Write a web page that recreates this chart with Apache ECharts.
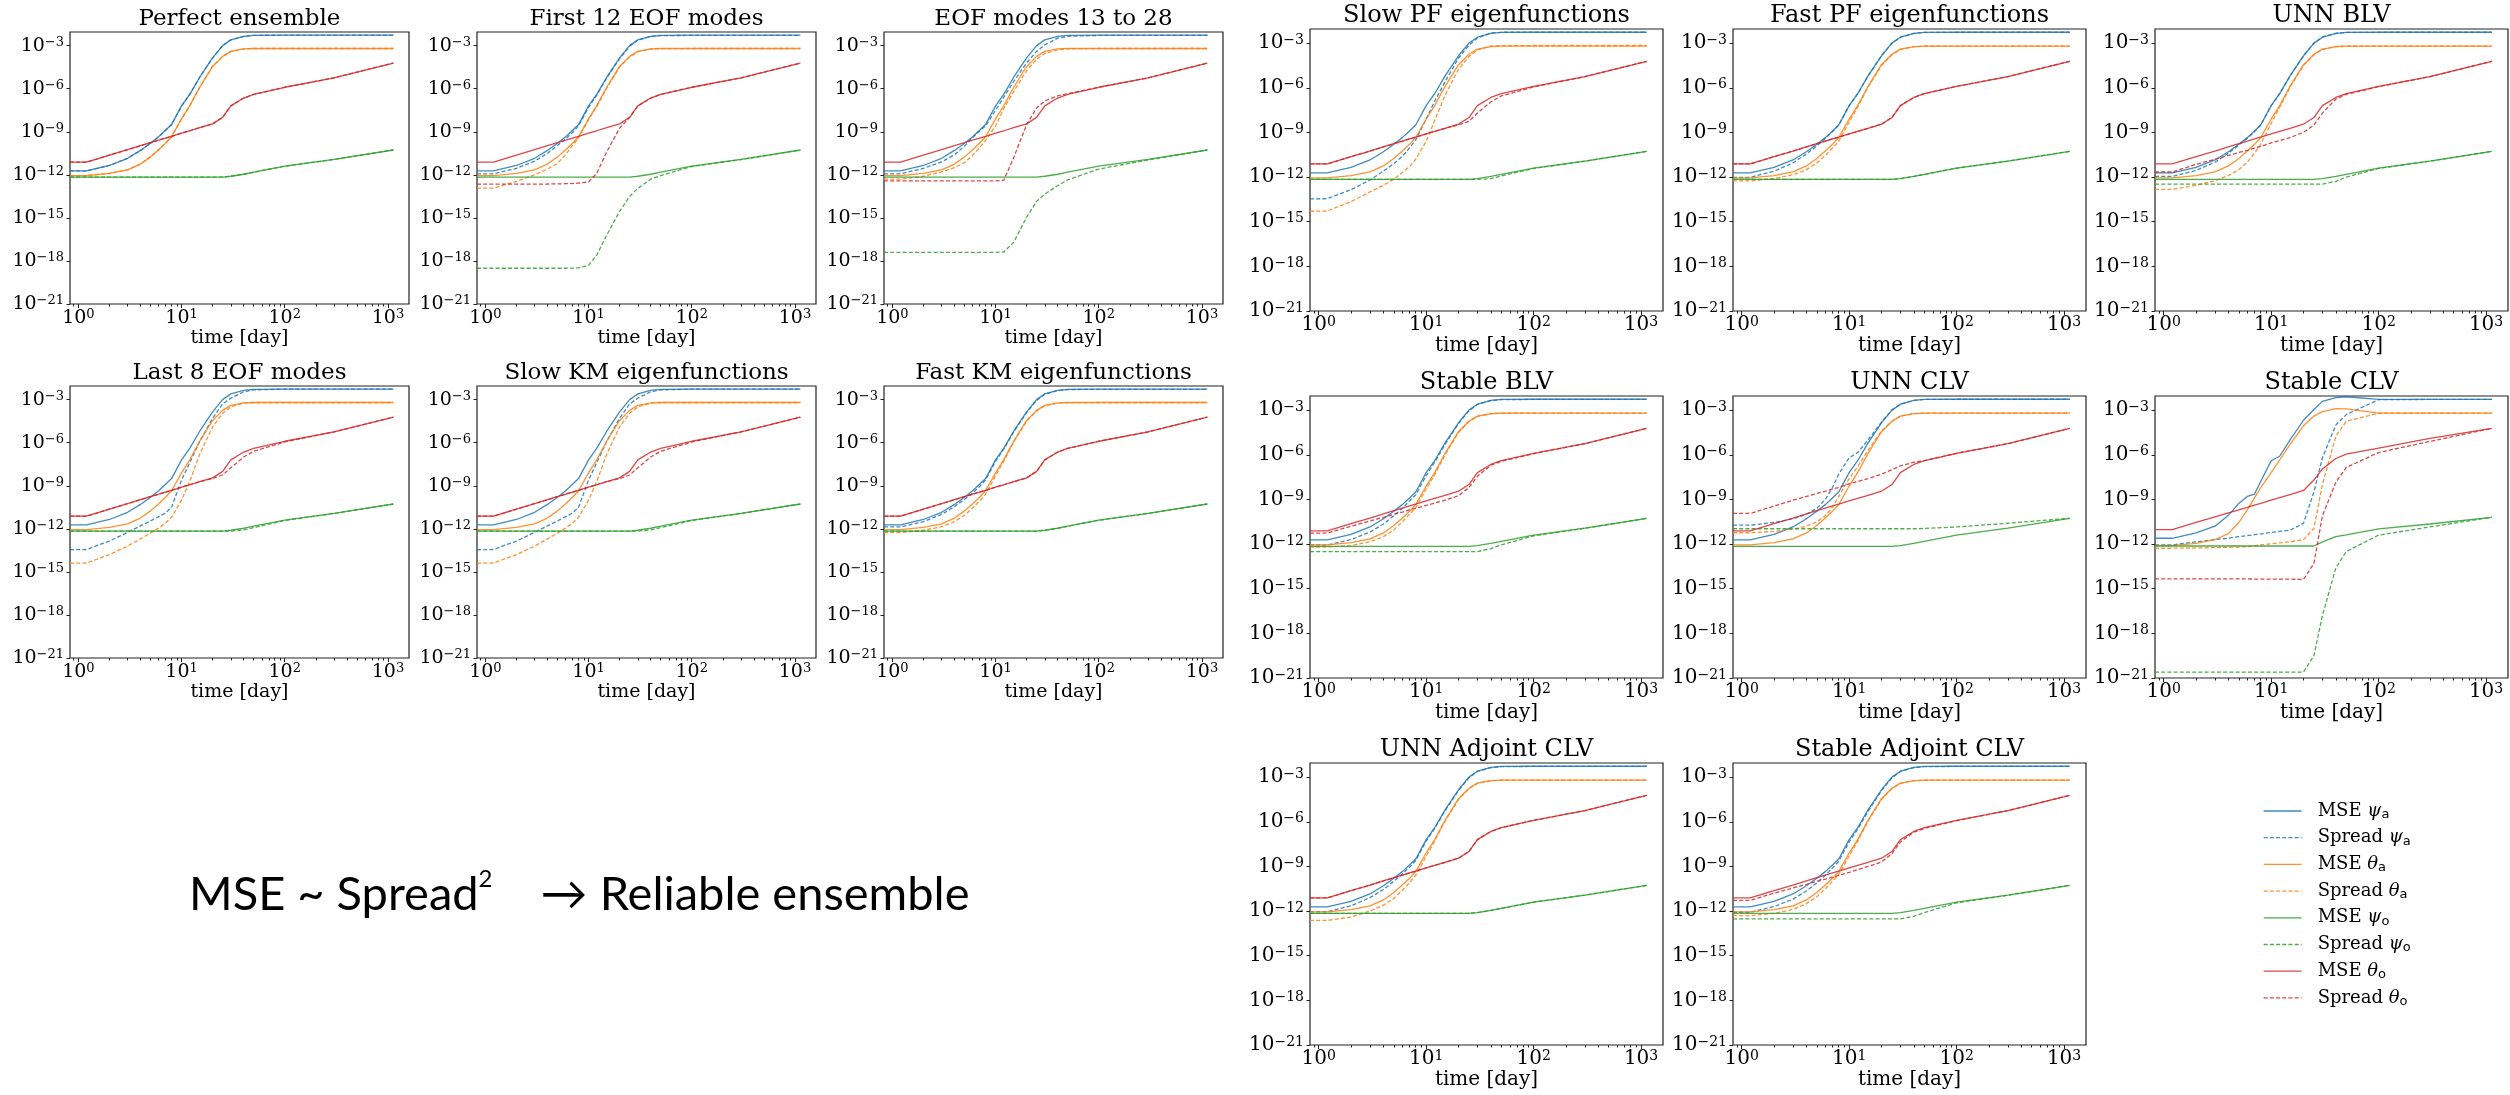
<!DOCTYPE html>
<html>
<head>
<meta charset="utf-8">
<script src="https://cdn.jsdelivr.net/npm/echarts@6/dist/echarts.min.js"></script>
<style>
  html, body { margin: 0; padding: 0; background: #fff; }
  #chart { width: 2510px; height: 1095px; }
</style>
</head>
<body>
<div id="chart"></div>
<script>
// sample times (day) shared by every curve
const tDays = [0.83, 1.2, 2, 3, 4, 5, 6, 7, 8, 10, 12, 15, 20, 25, 30, 40, 50, 100, 300, 1130];

// values are log10 of the error
// reference MSE (same in most panels)
const mseA  = [-11.72,-11.72,-11.35,-10.85,-10.3,-9.8,-9.35,-8.9,-8.5,-7.2,-6.4,-5.2,-3.85,-3.0,-2.6,-2.35,-2.28,-2.27,-2.27,-2.27];
const mseTa = [-12.05,-12.05,-11.9,-11.65,-11.25,-10.75,-10.25,-9.8,-9.35,-8.1,-7.2,-5.9,-4.45,-3.75,-3.4,-3.23,-3.2,-3.2,-3.2,-3.2];
const mseO  = [-12.16,-12.16,-12.16,-12.16,-12.16,-12.16,-12.16,-12.16,-12.16,-12.16,-12.16,-12.16,-12.16,-12.16,-12.1,-11.96,-11.82,-11.4,-10.93,-10.27];
const mseTo = [-11.12,-11.12,-10.63,-10.25,-9.97,-9.76,-9.59,-9.44,-9.32,-9.1,-8.93,-8.72,-8.45,-8.0,-7.2,-6.65,-6.4,-5.9,-5.25,-4.22];

// First 12 EOF modes
const eof12A  = [-11.93,-11.93,-11.55,-11.05,-10.5,-9.95,-9.5,-9.05,-8.6,-7.3,-6.45,-5.25,-3.9,-3.05,-2.62,-2.36,-2.3,-2.29,-2.29,-2.29];
const eof12Ta = [-12.93,-12.93,-12.45,-12.0,-11.6,-11.2,-10.6,-9.95,-9.45,-8.15,-7.25,-5.95,-4.5,-3.78,-3.42,-3.24,-3.21,-3.2,-3.2,-3.2];
const eof12O  = [-18.51,-18.51,-18.51,-18.51,-18.51,-18.51,-18.51,-18.5,-18.48,-18.3,-17.6,-16.2,-14.55,-13.5,-12.95,-12.3,-12.05,-11.42,-10.94,-10.27];
const eof12To = [-12.65,-12.65,-12.65,-12.65,-12.64,-12.63,-12.62,-12.6,-12.58,-12.5,-11.9,-10.4,-8.75,-8.0,-7.2,-6.65,-6.4,-5.9,-5.25,-4.22];

// EOF modes 13 to 28
const eof13A  = [-11.93,-11.93,-11.55,-11.1,-10.6,-10.0,-9.4,-8.95,-8.6,-7.5,-6.6,-5.5,-4.2,-3.4,-2.95,-2.48,-2.35,-2.29,-2.29,-2.29];
const eof13Ta = [-12.3,-12.3,-12.1,-11.8,-11.5,-11.15,-10.65,-10.1,-9.6,-8.6,-7.4,-6.2,-4.75,-3.95,-3.55,-3.3,-3.22,-3.2,-3.2,-3.2];
const eof13O  = [-17.4,-17.4,-17.4,-17.4,-17.4,-17.4,-17.4,-17.4,-17.4,-17.4,-17.38,-16.7,-14.95,-13.85,-13.35,-12.75,-12.35,-11.6,-10.97,-10.27];
const eof13To = [-12.42,-12.42,-12.42,-12.42,-12.42,-12.42,-12.42,-12.42,-12.42,-12.42,-12.38,-10.8,-8.5,-7.35,-6.85,-6.5,-6.35,-5.9,-5.25,-4.22];

// Last 8 EOF modes / Slow KM eigenfunctions
const slowKmA  = [-13.46,-13.44,-12.85,-12.25,-11.8,-11.45,-11.15,-10.9,-10.5,-8.6,-7.4,-5.9,-4.3,-3.3,-2.9,-2.45,-2.32,-2.27,-2.27,-2.27];
const slowKmTa = [-14.4,-14.38,-13.8,-13.2,-12.7,-12.3,-11.95,-11.6,-11.2,-10.0,-8.7,-6.8,-4.9,-3.95,-3.5,-3.25,-3.2,-3.2,-3.2,-3.2];
const slowKmO  = [-12.16,-12.16,-12.16,-12.16,-12.16,-12.16,-12.16,-12.16,-12.16,-12.16,-12.16,-12.16,-12.16,-12.16,-12.16,-12.08,-11.92,-11.42,-10.93,-10.27];
const slowKmTo = [-11.12,-11.12,-10.63,-10.25,-9.97,-9.76,-9.59,-9.44,-9.32,-9.1,-8.93,-8.72,-8.5,-8.25,-7.75,-7.0,-6.6,-5.95,-5.25,-4.22];

// Fast KM eigenfunctions
const fastKmA  = [-11.87,-11.87,-11.5,-11.0,-10.45,-9.95,-9.5,-9.05,-8.6,-7.3,-6.45,-5.25,-3.9,-3.05,-2.62,-2.36,-2.3,-2.28,-2.28,-2.28];
const fastKmTa = [-12.27,-12.27,-12.1,-11.85,-11.5,-11.05,-10.55,-10.05,-9.6,-8.3,-7.3,-5.95,-4.5,-3.78,-3.42,-3.24,-3.21,-3.2,-3.2,-3.2];

// Slow PF eigenfunctions
const slowPfA  = [-13.47,-13.45,-12.85,-12.2,-11.6,-11.1,-10.6,-10.05,-9.5,-8.1,-6.9,-5.6,-4.0,-3.15,-2.65,-2.32,-2.27,-2.26,-2.26,-2.26];
const slowPfTa = [-14.3,-14.28,-13.65,-13.0,-12.55,-12.15,-11.7,-11.3,-10.8,-9.6,-8.2,-6.5,-4.75,-3.9,-3.45,-3.2,-3.17,-3.16,-3.16,-3.16];
const slowPfO  = [-12.16,-12.16,-12.16,-12.16,-12.16,-12.16,-12.16,-12.16,-12.16,-12.16,-12.16,-12.16,-12.16,-12.16,-12.16,-12.1,-11.92,-11.42,-10.93,-10.27];
const slowPfTo = [-11.12,-11.12,-10.63,-10.25,-9.97,-9.76,-9.59,-9.44,-9.32,-9.1,-8.93,-8.72,-8.5,-8.25,-7.7,-6.95,-6.55,-5.95,-5.25,-4.22];

// Fast PF eigenfunctions
const fastPfA  = [-12.02,-12.02,-11.6,-11.05,-10.45,-9.9,-9.4,-8.95,-8.5,-7.2,-6.4,-5.2,-3.85,-3.0,-2.6,-2.35,-2.28,-2.27,-2.27,-2.27];
const fastPfTa = [-12.26,-12.26,-12.1,-11.85,-11.5,-11.05,-10.55,-10.05,-9.6,-8.3,-7.3,-5.95,-4.5,-3.78,-3.42,-3.24,-3.21,-3.2,-3.2,-3.2];

// UNN BLV
const unnBlvA  = [-11.96,-11.96,-11.55,-11.0,-10.4,-9.85,-9.4,-8.95,-8.5,-7.2,-6.4,-5.2,-3.85,-3.0,-2.6,-2.35,-2.28,-2.27,-2.27,-2.27];
const unnBlvTa = [-12.83,-12.83,-12.55,-12.25,-11.9,-11.5,-11.0,-10.4,-9.8,-8.4,-7.3,-5.95,-4.5,-3.78,-3.42,-3.24,-3.21,-3.2,-3.2,-3.2];
const unnBlvO  = [-12.47,-12.47,-12.47,-12.47,-12.47,-12.47,-12.47,-12.47,-12.47,-12.47,-12.47,-12.47,-12.47,-12.47,-12.47,-12.3,-12.0,-11.42,-10.93,-10.27];
const unnBlvTo = [-11.66,-11.66,-11.15,-10.8,-10.55,-10.35,-10.2,-10.05,-9.95,-9.7,-9.55,-9.35,-9.0,-8.5,-7.7,-6.75,-6.45,-5.92,-5.25,-4.22];

// Stable BLV
const stbBlvA  = [-12.06,-12.06,-11.7,-11.2,-10.65,-10.1,-9.6,-9.1,-8.7,-7.4,-6.5,-5.3,-3.9,-3.05,-2.62,-2.36,-2.3,-2.28,-2.28,-2.28];
const stbBlvTa = [-12.2,-12.2,-12.1,-11.85,-11.5,-11.05,-10.5,-10.0,-9.55,-8.3,-7.35,-6.0,-4.5,-3.78,-3.42,-3.24,-3.21,-3.2,-3.2,-3.2];
const stbBlvO  = [-12.51,-12.51,-12.51,-12.51,-12.51,-12.51,-12.51,-12.51,-12.51,-12.51,-12.51,-12.51,-12.51,-12.51,-12.51,-12.3,-12.05,-11.45,-10.94,-10.27];
const stbBlvTo = [-11.26,-11.26,-10.8,-10.45,-10.2,-10.0,-9.85,-9.7,-9.6,-9.4,-9.25,-9.05,-8.75,-8.2,-7.45,-6.7,-6.45,-5.92,-5.25,-4.22];

// UNN CLV
const unnClvA  = [-10.73,-10.73,-10.55,-10.3,-10.0,-9.6,-9.0,-8.2,-7.3,-6.2,-5.85,-5.0,-3.8,-3.0,-2.6,-2.35,-2.28,-2.27,-2.27,-2.27];
const unnClvTa = [-11.24,-11.24,-11.15,-11.0,-10.8,-10.5,-10.1,-9.5,-8.8,-7.6,-6.8,-5.7,-4.4,-3.75,-3.4,-3.23,-3.2,-3.2,-3.2,-3.2];
const unnClvO  = [-10.97,-10.97,-10.97,-10.97,-10.97,-10.97,-10.97,-10.97,-10.97,-10.97,-10.97,-10.97,-10.97,-10.97,-10.97,-10.97,-10.95,-10.85,-10.6,-10.27];
const unnClvTo = [-9.94,-9.94,-9.45,-9.05,-8.8,-8.6,-8.45,-8.3,-8.2,-7.95,-7.8,-7.6,-7.3,-7.0,-6.75,-6.5,-6.4,-5.9,-5.25,-4.22];

// Stable CLV (own MSE and spread)
const stbClvMseA  = [-11.61,-11.61,-11.25,-10.8,-10.07,-9.27,-8.8,-8.64,-7.8,-6.4,-6.1,-5.0,-3.68,-2.96,-2.41,-2.16,-2.1,-2.28,-2.28,-2.28];
const stbClvMseTa = [-12.1,-12.1,-11.95,-11.7,-11.3,-10.55,-9.7,-8.9,-8.2,-7.2,-6.35,-5.3,-4.05,-3.4,-3.1,-2.9,-2.92,-3.2,-3.2,-3.2];
const stbClvMseO  = [-12.13,-12.13,-12.13,-12.13,-12.13,-12.13,-12.13,-12.13,-12.13,-12.13,-12.13,-12.13,-12.13,-12.13,-11.85,-11.5,-11.38,-10.98,-10.65,-10.2];
const stbClvMseTo = [-11.03,-11.03,-10.55,-10.17,-9.9,-9.7,-9.53,-9.38,-9.27,-9.05,-8.88,-8.67,-8.4,-7.7,-6.95,-6.25,-5.95,-5.55,-4.9,-4.23];
const stbClvA  = [-12.06,-12.06,-11.85,-11.7,-11.6,-11.5,-11.43,-11.37,-11.32,-11.22,-11.15,-11.07,-10.6,-8.5,-6.2,-4.0,-3.3,-2.3,-2.28,-2.28];
const stbClvTa = [-12.28,-12.28,-12.26,-12.24,-12.22,-12.2,-12.18,-12.12,-12.05,-11.98,-11.92,-11.85,-11.7,-10.95,-8.0,-4.75,-3.75,-3.2,-3.2,-3.2];
const stbClvO  = [-20.6,-20.6,-20.6,-20.6,-20.6,-20.6,-20.6,-20.6,-20.6,-20.6,-20.6,-20.6,-20.6,-19.5,-16.8,-13.6,-12.5,-11.4,-10.85,-10.2];
const stbClvTo = [-14.34,-14.34,-14.34,-14.34,-14.34,-14.34,-14.34,-14.35,-14.35,-14.35,-14.36,-14.36,-14.37,-13.3,-10.1,-7.85,-6.85,-5.85,-5.1,-4.23];

// UNN Adjoint CLV
const unnAdjA  = [-12.04,-12.04,-11.65,-11.1,-10.55,-10.0,-9.5,-9.05,-8.6,-7.3,-6.45,-5.25,-3.9,-3.05,-2.62,-2.36,-2.3,-2.28,-2.28,-2.28];
const unnAdjTa = [-12.63,-12.63,-12.4,-12.0,-11.6,-11.15,-10.6,-10.1,-9.6,-8.3,-7.3,-5.95,-4.5,-3.78,-3.42,-3.24,-3.21,-3.2,-3.2,-3.2];

// Stable Adjoint CLV
const stbAdjA  = [-12.08,-12.08,-11.7,-11.2,-10.65,-10.1,-9.6,-9.1,-8.65,-7.35,-6.5,-5.3,-3.9,-3.05,-2.62,-2.36,-2.3,-2.28,-2.28,-2.28];
const stbAdjTa = [-12.31,-12.31,-12.15,-11.9,-11.5,-11.05,-10.5,-10.0,-9.55,-8.3,-7.3,-5.95,-4.5,-3.78,-3.42,-3.24,-3.21,-3.2,-3.2,-3.2];
const stbAdjO  = [-12.53,-12.53,-12.53,-12.53,-12.53,-12.53,-12.53,-12.53,-12.53,-12.53,-12.53,-12.53,-12.53,-12.53,-12.53,-12.35,-12.1,-11.45,-10.94,-10.27];
const stbAdjTo = [-11.28,-11.28,-10.8,-10.45,-10.2,-10.0,-9.85,-9.72,-9.6,-9.4,-9.22,-9.0,-8.7,-8.15,-7.35,-6.7,-6.45,-5.92,-5.25,-4.22];

// tick positions
const xMajor = [1, 10, 100, 1000];
const xMinor = [0.9, 2, 3, 4, 5, 6, 7, 8, 9, 20, 30, 40, 50, 60, 70, 80, 90, 200, 300, 400, 500, 600, 700, 800, 900];
const yMajor = [1e-21, 1e-18, 1e-15, 1e-12, 1e-9, 1e-6, 1e-3];

const legendNames = ['MSE ψ_a', 'Spread ψ_a', 'MSE θ_a', 'Spread θ_a', 'MSE ψ_o', 'Spread ψ_o', 'MSE θ_o', 'Spread θ_o'];
const colors = ['#1f77b4', '#1f77b4', '#ff7f0e', '#ff7f0e', '#2ca02c', '#2ca02c', '#d62728', '#d62728'];

const mseRef = [mseA, mseTa, mseO, mseTo];
const panels = [
  { title: 'Perfect ensemble',        g: 0, c: 0, r: 0, mse: mseRef, spr: [mseA, mseTa, mseO, mseTo] },
  { title: 'First 12 EOF modes',      g: 0, c: 1, r: 0, mse: mseRef, spr: [eof12A, eof12Ta, eof12O, eof12To] },
  { title: 'EOF modes 13 to 28',      g: 0, c: 2, r: 0, mse: mseRef, spr: [eof13A, eof13Ta, eof13O, eof13To] },
  { title: 'Last 8 EOF modes',        g: 0, c: 0, r: 1, mse: mseRef, spr: [slowKmA, slowKmTa, slowKmO, slowKmTo] },
  { title: 'Slow KM eigenfunctions',  g: 0, c: 1, r: 1, mse: mseRef, spr: [slowKmA, slowKmTa, slowKmO, slowKmTo] },
  { title: 'Fast KM eigenfunctions',  g: 0, c: 2, r: 1, mse: mseRef, spr: [fastKmA, fastKmTa, mseO, mseTo] },
  { title: 'Slow PF eigenfunctions',  g: 1, c: 0, r: 0, mse: mseRef, spr: [slowPfA, slowPfTa, slowPfO, slowPfTo] },
  { title: 'Fast PF eigenfunctions',  g: 1, c: 1, r: 0, mse: mseRef, spr: [fastPfA, fastPfTa, mseO, mseTo] },
  { title: 'UNN BLV',                 g: 1, c: 2, r: 0, mse: mseRef, spr: [unnBlvA, unnBlvTa, unnBlvO, unnBlvTo] },
  { title: 'Stable BLV',              g: 1, c: 0, r: 1, mse: mseRef, spr: [stbBlvA, stbBlvTa, stbBlvO, stbBlvTo] },
  { title: 'UNN CLV',                 g: 1, c: 1, r: 1, mse: mseRef, spr: [unnClvA, unnClvTa, unnClvO, unnClvTo] },
  { title: 'Stable CLV',              g: 1, c: 2, r: 1, mse: [stbClvMseA, stbClvMseTa, stbClvMseO, stbClvMseTo], spr: [stbClvA, stbClvTa, stbClvO, stbClvTo] },
  { title: 'UNN Adjoint CLV',         g: 1, c: 0, r: 2, mse: mseRef, spr: [unnAdjA, unnAdjTa, mseO, mseTo] },
  { title: 'Stable Adjoint CLV',      g: 1, c: 1, r: 2, mse: mseRef, spr: [stbAdjA, stbAdjTa, stbAdjO, stbAdjTo] }
];

// layout of the two pasted figures
const groups = [
  { xs: [70, 477, 884], ys: [32, 386], w: 339, h: 272, tick: 19, title: 23 },
  { xs: [1310, 1733, 2155], ys: [29, 396, 763], w: 353, h: 282, tick: 20, title: 24 }
];

const X_MIN = 0.83, X_MAX = 1600, Y_MIN = 1e-21, Y_MAX = Math.pow(10, -2.05);
const SERIF = '"DejaVu Serif", serif';

function powLabel(v) {
  const n = Math.round(Math.log10(v));
  return '{b|10}{s|' + (n < 0 ? '\u2212' + (-n) : n) + '}';
}
function tickRich(fs) {
  return {
    b: { fontFamily: SERIF, fontSize: fs, lineHeight: 20, color: '#000' },
    s: { fontFamily: SERIF, fontSize: Math.round(fs * 0.68), lineHeight: 13, verticalAlign: 'top', color: '#000' }
  };
}

const grids = [], xAxes = [], yAxes = [], series = [], graphics = [];
panels.forEach((p, i) => {
  const g = groups[p.g];
  const left = g.xs[p.c], top = g.ys[p.r];
  grids.push({ left: left, top: top, width: g.w, height: g.h, show: true,
               borderColor: '#222', borderWidth: 1.2, backgroundColor: '#fff' });
  xAxes.push({
    gridIndex: i, type: 'log', min: X_MIN, max: X_MAX, position: 'bottom',
    axisLine: { show: false }, splitLine: { show: false },
    axisTick: { customValues: xMajor, length: 4, lineStyle: { color: '#222' } },
    axisLabel: { customValues: xMajor, formatter: powLabel, margin: 4, rich: tickRich(g.tick) },
    name: 'time [day]', nameLocation: 'middle', nameGap: 24,
    nameTextStyle: { fontFamily: SERIF, fontSize: g.tick, color: '#000' }
  });
  xAxes.push({
    gridIndex: i, type: 'log', min: X_MIN, max: X_MAX, position: 'bottom',
    axisLine: { show: false }, splitLine: { show: false }, axisLabel: { show: false },
    axisTick: { customValues: xMinor, length: 2.5, lineStyle: { color: '#222' } }
  });
  yAxes.push({
    gridIndex: i, type: 'log', min: Y_MIN, max: Y_MAX,
    axisLine: { show: false }, splitLine: { show: false },
    axisTick: { customValues: yMajor, length: 3.5, lineStyle: { color: '#222' } },
    axisLabel: { customValues: yMajor, formatter: powLabel, margin: 6, rich: tickRich(g.tick) }
  });
  legendNames.forEach((name, k) => {
    const src = (k % 2 === 0 ? p.mse : p.spr)[Math.floor(k / 2)];
    series.push({
      type: 'line', name: name, xAxisIndex: 2 * i, yAxisIndex: i,
      symbol: 'none', silent: true, animation: false,
      lineStyle: { color: colors[k], width: 1.3, opacity: 0.85, type: k % 2 ? [4, 2.2] : 'solid' },
      itemStyle: { color: colors[k] },
      data: tDays.map((t, j) => [t, Math.pow(10, src[j])])
    });
  });
  graphics.push({
    type: 'text', x: left + g.w / 2, y: top - 13,
    style: { text: p.title, fontFamily: SERIF, fontSize: g.title, fill: '#000', align: 'center', verticalAlign: 'middle' }
  });
});

graphics.push({
  type: 'text', x: 189, y: 895,
  style: {
    text: '{m|MSE ~ Spread}{sup|2}{m|    \u2192 Reliable ensemble}',
    verticalAlign: 'middle',
    rich: {
      m: { fontFamily: 'Lato, sans-serif', fontSize: 47, lineHeight: 56, fill: '#000' },
      sup: { fontFamily: 'Lato, sans-serif', fontSize: 24, lineHeight: 34, verticalAlign: 'top', fill: '#000' }
    }
  }
});

const chart = echarts.init(document.getElementById('chart'), null, { renderer: 'canvas' });
chart.setOption({
  backgroundColor: '#fff',
  animation: false,
  grid: grids,
  xAxis: xAxes,
  yAxis: yAxes,
  series: series,
  graphic: graphics,
  legend: {
    data: legendNames, orient: 'vertical', left: 2258, top: 797,
    itemWidth: 38, itemHeight: 14, itemGap: 7.7, selectedMode: false,
    itemStyle: { opacity: 0 },
    lineStyle: { width: 1.3 },
    formatter: function (name) {
      const parts = name.split(' ');
      const gs = parts[1].split('_');
      return '{p|' + parts[0] + ' }{g|' + gs[0] + '}{u|' + gs[1] + '}';
    },
    textStyle: {
      rich: {
        p: { fontFamily: SERIF, fontSize: 18, lineHeight: 20, color: '#000', padding: [0, 0, 0, 11] },
        g: { fontFamily: SERIF, fontStyle: 'italic', fontSize: 18, lineHeight: 20, color: '#000' },
        u: { fontFamily: '"DejaVu Sans", sans-serif', fontSize: 13, lineHeight: 13, verticalAlign: 'bottom', color: '#000' }
      }
    }
  }
});
</script>
</body>
</html>
